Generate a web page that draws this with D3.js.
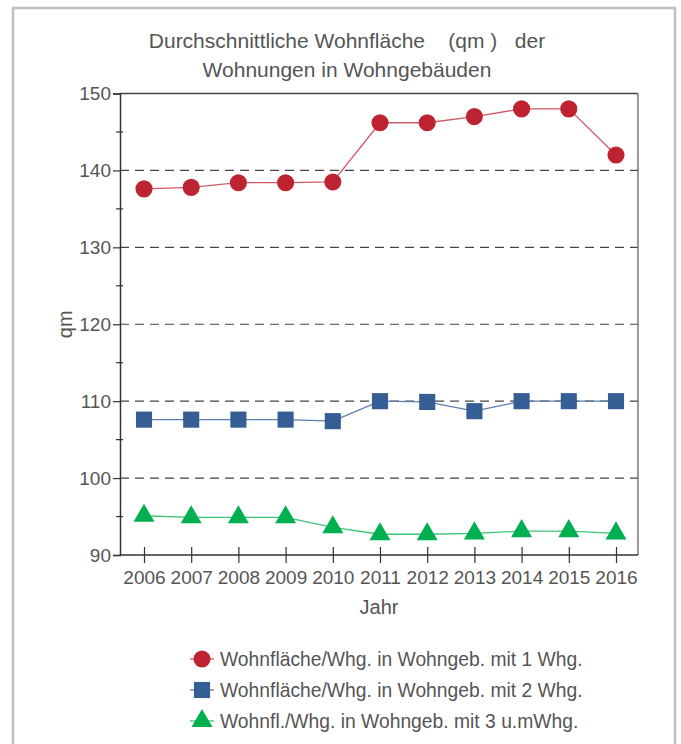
<!DOCTYPE html>
<html>
<head>
<meta charset="utf-8">
<script src="https://cdn.jsdelivr.net/npm/d3@7"></script>
<style>
  body { margin: 0; background: #fff; }
  text { font-family: "Liberation Sans", Arial, sans-serif; fill: #555; }
</style>
</head>
<body>
<svg id="chart" width="681" height="744"></svg>
<script>
const years = [2006, 2007, 2008, 2009, 2010, 2011, 2012, 2013, 2014, 2015, 2016];
const einWhg = [137.6, 137.8, 138.4, 138.4, 138.5, 146.2, 146.2, 147.0, 148.0, 148.0, 142.0];
const zweiWhg = [107.6, 107.6, 107.6, 107.6, 107.4, 110.0, 109.9, 108.7, 110.0, 110.0, 110.0];
const dreiWhg = [95.1, 94.9, 94.9, 94.9, 93.6, 92.7, 92.7, 92.8, 93.1, 93.1, 92.8];
const seriesNames = [
    'Wohnfläche/Whg. in Wohngeb. mit 1 Whg.',
    'Wohnfläche/Whg. in Wohngeb. mit 2 Whg.',
    'Wohnfl./Whg. in Wohngeb. mit 3 u.mWhg.'
];
const yTicks = [90, 100, 110, 120, 130, 140, 150];
const yMinor = [95, 105, 115, 125, 135, 145];

const series = [
    { name: seriesNames[0], values: einWhg, color: '#be2332', line: '#d05a66', symbol: d3.symbolCircle, size: 230 },
    { name: seriesNames[1], values: zweiWhg, color: '#355f94', line: '#5b7fab', symbol: d3.symbolSquare, size: 260 },
    { name: seriesNames[2], values: dreiWhg, color: '#00b050', line: '#3dc476', symbol: d3.symbolTriangle, size: 190 }
];

const svg = d3.select('#chart');
const plot = { left: 120, right: 638, top: 93.5, bottom: 555 };

// outer frame
svg.append('path')
    .attr('d', 'M13,750 V8 H675 V750')
    .attr('fill', 'none')
    .attr('stroke', '#c0c0c0')
    .attr('stroke-width', 2.5);

const x = d3.scalePoint()
    .domain(years)
    .range([144, 616]);

const y = d3.scaleLinear()
    .domain([90, 150])
    .range([plot.bottom, plot.top]);

// title
const title = svg.append('text')
    .attr('text-anchor', 'middle')
    .attr('font-size', 21)
    .style('white-space', 'pre');
title.append('tspan').attr('x', 347).attr('y', 48).text('Durchschnittliche Wohnfläche    (qm )   der');
title.append('tspan').attr('x', 347).attr('y', 77).text('Wohnungen in Wohngebäuden');

// grid
svg.append('g')
    .selectAll('line')
    .data(yTicks.filter(d => d > 90 && d < 150))
    .enter()
    .append('line')
        .attr('x1', plot.left)
        .attr('x2', plot.right)
        .attr('y1', d => y(d))
        .attr('y2', d => y(d))
        .attr('stroke', '#444')
        .attr('stroke-width', 1.2)
        .attr('stroke-dasharray', '9,6');

// plot box
svg.append('line').attr('x1', plot.left).attr('x2', plot.right).attr('y1', plot.top).attr('y2', plot.top)
    .attr('stroke', '#444').attr('stroke-width', 1.5);
svg.append('line').attr('x1', plot.right).attr('x2', plot.right).attr('y1', plot.top).attr('y2', plot.bottom)
    .attr('stroke', '#777').attr('stroke-width', 1.5);

// y axis
const yAxis = svg.append('g')
    .attr('transform', 'translate(' + plot.left + ',0)')
    .call(d3.axisLeft(y).tickValues(yTicks).tickSize(7).tickFormat(d3.format('d')));
yAxis.select('.domain').attr('stroke', '#333').attr('stroke-width', 1.5);
yAxis.selectAll('.tick line').attr('stroke', '#333').attr('stroke-width', 1.2);
yAxis.selectAll('.tick text')
    .attr('font-size', 19)
    .attr('fill', '#555')
    .attr('font-family', '"Liberation Sans", Arial, sans-serif')
    .attr('x', -9);

yAxis.selectAll('.minor')
    .data(yMinor)
    .enter()
    .append('line')
        .attr('x1', -4)
        .attr('x2', 3)
        .attr('y1', d => y(d))
        .attr('y2', d => y(d))
        .attr('stroke', '#333')
        .attr('stroke-width', 1.2);

// x axis
const xAxis = svg.append('g')
    .attr('transform', 'translate(0,' + plot.bottom + ')')
    .call(d3.axisBottom(x).tickSize(8).tickSizeOuter(0));
xAxis.select('.domain').attr('d', 'M' + plot.left + ',0H' + plot.right).attr('stroke', '#333').attr('stroke-width', 1.5);
xAxis.selectAll('.tick line').attr('y1', -8).attr('y2', 8).attr('stroke', '#333').attr('stroke-width', 1.2);
xAxis.selectAll('.tick text')
    .attr('font-size', 19)
    .attr('fill', '#555')
    .attr('font-family', '"Liberation Sans", Arial, sans-serif')
    .attr('y', 16);

// axis titles
svg.append('text')
    .attr('transform', 'translate(72,' + ((plot.top + plot.bottom) / 2) + ') rotate(-90)')
    .attr('text-anchor', 'middle')
    .attr('font-size', 20)
    .text('qm');

svg.append('text')
    .attr('x', (plot.left + plot.right) / 2)
    .attr('y', 614)
    .attr('text-anchor', 'middle')
    .attr('font-size', 20)
    .text('Jahr');

// lines and markers
const line = d3.line()
    .x((d, i) => x(years[i]))
    .y(d => y(d));

series.forEach(function(s) {
    svg.append('path')
        .datum(s.values)
        .attr('fill', 'none')
        .attr('stroke', s.line)
        .attr('stroke-width', 1.3)
        .attr('d', line);

    svg.append('g')
        .selectAll('path')
        .data(s.values)
        .enter()
        .append('path')
            .attr('transform', (d, i) => 'translate(' + x(years[i]) + ',' + y(d) + ')')
            .attr('d', d3.symbol().type(s.symbol).size(s.size))
            .attr('fill', s.color);
});

// legend
const legend = svg.append('g');
series.forEach(function(s, i) {
    const ly = 659 + i * 31;
    legend.append('line')
        .attr('x1', 190).attr('x2', 214)
        .attr('y1', ly).attr('y2', ly)
        .attr('stroke', s.line)
        .attr('stroke-width', 1.3);
    legend.append('path')
        .attr('transform', 'translate(202,' + ly + ')')
        .attr('d', d3.symbol().type(s.symbol).size(s.size))
        .attr('fill', s.color);
    legend.append('text')
        .attr('x', 220)
        .attr('y', ly + 7)
        .attr('font-size', 19.3)
        .text(s.name);
});
</script>
</body>
</html>
